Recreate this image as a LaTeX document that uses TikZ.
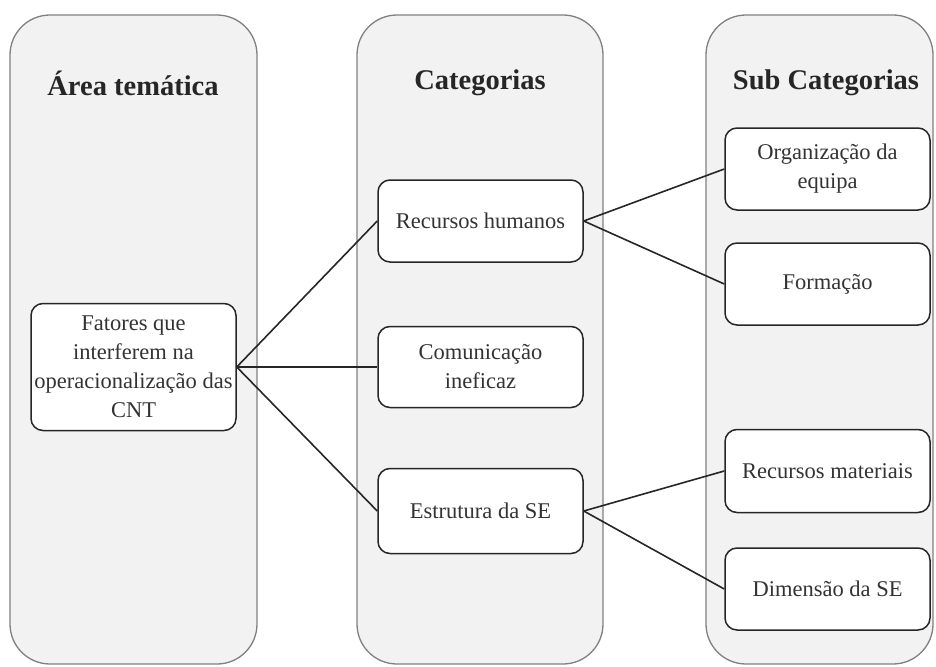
\documentclass[tikz,border=0pt]{standalone}
\usepackage{fontspec}
\setmainfont{Liberation Serif}
\begin{document}
\begin{tikzpicture}[x=1pt,y=-1pt,
  panel/.style={draw=black!50, line width=1.3pt, fill=black!5, rounded corners=40pt},
  title/.style={font=\fontsize{28.5}{32}\selectfont\bfseries, text=black!85, anchor=center},
  item/.style={draw=black!85, line width=1.5pt, fill=white, rounded corners=12pt,
    align=center, font=\fontsize{22.5}{29}\selectfont, text=black!80, inner sep=0pt},
  link/.style={draw=black!85, line width=1.6pt}]
\useasboundingbox (0,0) rectangle (936,666);

% the three columns
\draw[panel] (10,15) rectangle (257,664);
\draw[panel] (357,15) rectangle (603,664);
\draw[panel] (706,15) rectangle (933,664);

\node[title] (t1) at (133,83) {Área temática};
\node[title] (t2) at (480,83) {Categorias};
\node[title] (t3) at (826,83) {Sub Categorias};

% boxes
\node[item, minimum width=205pt, minimum height=127pt] (fat) at (133.5,367)
  {Fatores que\\interferem na\\operacionalização das\\CNT};
\node[item, minimum width=205pt, minimum height=82pt] (rh) at (480.5,221) {Recursos humanos};
\node[item, minimum width=205pt, minimum height=81pt] (com) at (480.5,367) {Comunicação\\ineficaz};
\node[item, minimum width=205pt, minimum height=85pt] (est) at (480.5,511) {Estrutura da SE};
\node[item, minimum width=205pt, minimum height=82pt] (org) at (827.5,169) {Organização da\\equipa};
\node[item, minimum width=205pt, minimum height=82pt] (for) at (827.5,284) {Formação};
\node[item, minimum width=205pt, minimum height=83pt] (rm) at (827.5,471) {Recursos materiais};
\node[item, minimum width=205pt, minimum height=82pt] (dim) at (827.5,589) {Dimensão da SE};

% connectors
\draw[link] (fat.east) -- (rh.west);
\draw[link] (fat.east) -- (com.west);
\draw[link] (fat.east) -- (est.west);
\draw[link] (rh.east) -- (org.west);
\draw[link] (rh.east) -- (for.west);
\draw[link] (est.east) -- (rm.west);
\draw[link] (est.east) -- (dim.west);
\end{tikzpicture}
\end{document}
